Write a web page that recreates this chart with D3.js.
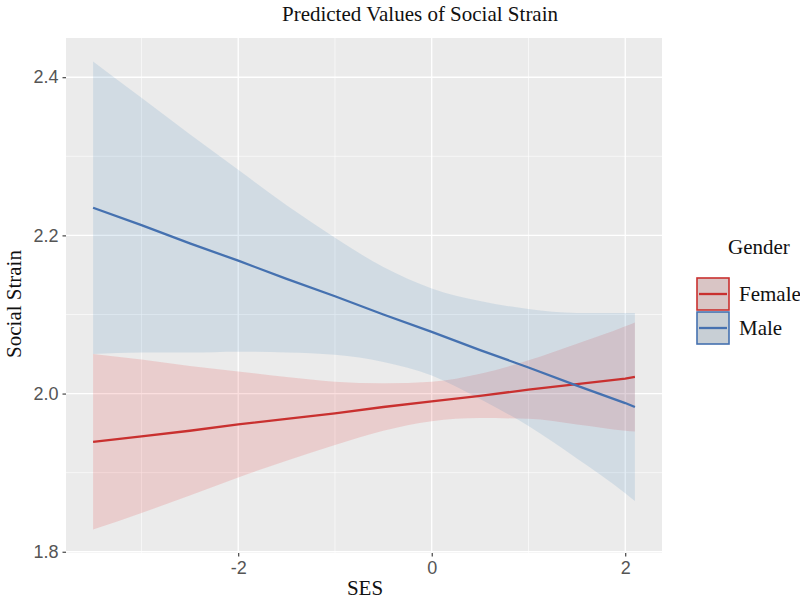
<!DOCTYPE html>
<html>
<head>
<meta charset="utf-8">
<script src="https://cdn.jsdelivr.net/npm/d3@7"></script>
<style>
  body { margin: 0; background: #ffffff; }
  svg { display: block; }
</style>
</head>
<body>
<svg id="chart" width="800" height="599"></svg>
<script>
// values
var ses = [-3.5, -3, -2.5, -2, -1.5, -1, -0.5, 0, 0.5, 1, 1.5, 2, 2.1];

var female_fit = [1.939, 1.946, 1.953, 1.961, 1.968, 1.975, 1.983, 1.990, 1.997, 2.005, 2.012, 2.019, 2.021];
var female_hi  = [2.050, 2.043, 2.035, 2.028, 2.021, 2.015, 2.013, 2.015, 2.025, 2.042, 2.063, 2.085, 2.090];
var female_lo  = [1.828, 1.849, 1.871, 1.894, 1.915, 1.935, 1.953, 1.965, 1.969, 1.968, 1.961, 1.953, 1.952];

var male_fit = [2.235, 2.213, 2.190, 2.168, 2.145, 2.123, 2.100, 2.078, 2.055, 2.033, 2.010, 1.988, 1.983];
var male_hi  = [2.420, 2.374, 2.328, 2.283, 2.238, 2.197, 2.160, 2.133, 2.117, 2.107, 2.102, 2.102, 2.102];
var male_lo  = [2.050, 2.052, 2.052, 2.053, 2.052, 2.049, 2.040, 2.023, 1.993, 1.959, 1.918, 1.874, 1.864];

var groups = ["Female", "Male"];
var xTicks = [-2, 0, 2];
var xMinor = [-3, -1, 1];
var yTicks = [1.8, 2.0, 2.2, 2.4];
var yMinor = [1.9, 2.1, 2.3];

var lineColor = { Female: "#c9302f", Male: "#4571b0" };
var fillColor = { Female: "#e41a1c", Male: "#377eb8" };

var svg = d3.select("#chart"),
    margin = { top: 38, right: 138, bottom: 46, left: 66 },
    width = +svg.attr("width") - margin.left - margin.right,
    height = +svg.attr("height") - margin.top - margin.bottom,
    g = svg.append("g").attr("transform", "translate(" + margin.left + "," + margin.top + ")");

// ggplot style 5% expansion
var xr = d3.extent(ses), xpad = (xr[1] - xr[0]) * 0.05;
var yr = [d3.min(female_lo.concat(male_lo)), d3.max(female_hi.concat(male_hi))], ypad = (yr[1] - yr[0]) * 0.05;

var x = d3.scaleLinear().domain([xr[0] - xpad, xr[1] + xpad]).range([0, width]);
var y = d3.scaleLinear().domain([yr[0] - ypad, yr[1] + ypad]).range([height, 0]);

g.append("rect")
    .attr("width", width)
    .attr("height", height)
    .attr("fill", "#ebebeb");

// grid
g.selectAll(".minor-y").data(yMinor).enter().append("line")
    .attr("x1", 0).attr("x2", width)
    .attr("y1", function(d) { return y(d); }).attr("y2", function(d) { return y(d); })
    .attr("stroke", "#fff").attr("stroke-width", 0.6);
g.selectAll(".minor-x").data(xMinor).enter().append("line")
    .attr("y1", 0).attr("y2", height)
    .attr("x1", function(d) { return x(d); }).attr("x2", function(d) { return x(d); })
    .attr("stroke", "#fff").attr("stroke-width", 0.6);
g.selectAll(".major-y").data(yTicks).enter().append("line")
    .attr("x1", 0).attr("x2", width)
    .attr("y1", function(d) { return y(d); }).attr("y2", function(d) { return y(d); })
    .attr("stroke", "#fff").attr("stroke-width", 1.3);
g.selectAll(".major-x").data(xTicks).enter().append("line")
    .attr("y1", 0).attr("y2", height)
    .attr("x1", function(d) { return x(d); }).attr("x2", function(d) { return x(d); })
    .attr("stroke", "#fff").attr("stroke-width", 1.3);

var series = [
    { name: "Female", fit: female_fit, lo: female_lo, hi: female_hi },
    { name: "Male", fit: male_fit, lo: male_lo, hi: male_hi }
];

var area = d3.area()
    .x(function(d) { return x(d.x); })
    .y0(function(d) { return y(d.lo); })
    .y1(function(d) { return y(d.hi); })
    .curve(d3.curveMonotoneX);

var line = d3.line()
    .x(function(d) { return x(d.x); })
    .y(function(d) { return y(d.fit); });

series.forEach(function(s) {
    s.pts = ses.map(function(v, i) {
        return { x: v, fit: s.fit[i], lo: s.lo[i], hi: s.hi[i] };
    });
    g.append("path")
        .datum(s.pts)
        .attr("d", area)
        .attr("fill", fillColor[s.name])
        .attr("fill-opacity", 0.14);
});

series.forEach(function(s) {
    g.append("path")
        .datum(s.pts)
        .attr("d", line)
        .attr("fill", "none")
        .attr("stroke", lineColor[s.name])
        .attr("stroke-width", 2.3);
});

// axes
var xAxis = g.append("g")
    .attr("transform", "translate(0," + height + ")")
    .call(d3.axisBottom(x).tickValues(xTicks).tickSize(3.5).tickPadding(5).tickFormat(d3.format("d")));
var yAxis = g.append("g")
    .call(d3.axisLeft(y).tickValues(yTicks).tickSize(3.5).tickPadding(4).tickFormat(d3.format(".1f")));

[xAxis, yAxis].forEach(function(a) {
    a.select(".domain").remove();
    a.selectAll(".tick line").attr("stroke", "#333").attr("stroke-width", 1.1);
    a.selectAll(".tick text")
        .attr("fill", "#555")
        .style("font-family", "'Liberation Sans', Arial, sans-serif")
        .style("font-size", "18px");
});
xAxis.selectAll(".tick text").text(function(d) { return d < 0 ? "-" + Math.abs(d) : d; });

var serif = "'Liberation Serif', 'DejaVu Serif', serif";

svg.append("text")
    .attr("x", 420).attr("y", 21)
    .attr("text-anchor", "middle")
    .style("font-family", serif).style("font-size", "21px").attr("fill", "#111")
    .text("Predicted Values of Social Strain");

svg.append("text")
    .attr("x", 365).attr("y", 595)
    .attr("text-anchor", "middle")
    .style("font-family", serif).style("font-size", "21px").attr("fill", "#111")
    .text("SES");

svg.append("text")
    .attr("transform", "translate(21,304) rotate(-90)")
    .attr("text-anchor", "middle")
    .style("font-family", serif).style("font-size", "21px").attr("fill", "#111")
    .text("Social Strain");

// legend
var legend = svg.append("g").attr("transform", "translate(697,0)");
legend.append("text")
    .attr("x", 31).attr("y", 254)
    .style("font-family", serif).style("font-size", "21px").attr("fill", "#111")
    .text("Gender");

var key = legend.selectAll(".key").data(groups).enter().append("g")
    .attr("transform", function(d, i) { return "translate(0," + (278 + i * 34) + ")"; });
key.append("rect")
    .attr("width", 32).attr("height", 32)
    .attr("fill", "#d9d9d9");
key.append("rect")
    .attr("width", 32).attr("height", 32)
    .attr("fill", function(d) { return fillColor[d]; })
    .attr("fill-opacity", 0.1)
    .attr("stroke", function(d) { return lineColor[d]; })
    .attr("stroke-width", 1.6);
key.append("line")
    .attr("x1", 2).attr("x2", 30)
    .attr("y1", 16).attr("y2", 16)
    .attr("stroke", function(d) { return lineColor[d]; })
    .attr("stroke-width", 2.3);
key.append("text")
    .attr("x", 42).attr("y", 23)
    .style("font-family", serif).style("font-size", "21px").attr("fill", "#111")
    .text(function(d) { return d; });
</script>
</body>
</html>
